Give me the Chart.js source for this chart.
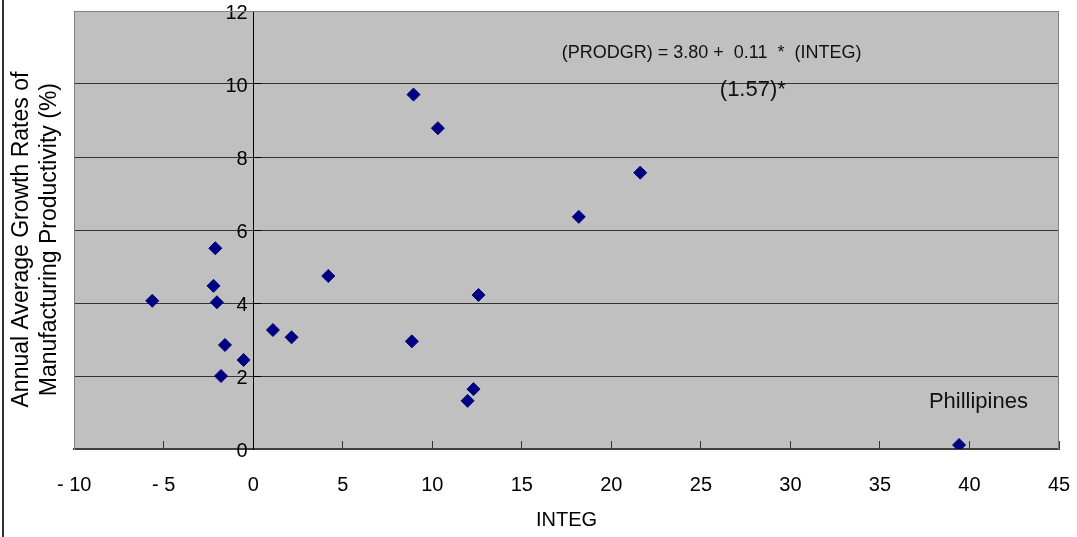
<!DOCTYPE html>
<html>
<head>
<meta charset="utf-8">
<script src="https://cdn.jsdelivr.net/npm/chart.js@4/dist/chart.umd.min.js"></script>
<style>
  html, body { margin: 0; padding: 0; background: #fff; }
  #wrap { position: relative; width: 1077px; height: 537px; }
  #edge { position: absolute; left: 2px; top: 0; width: 2px; height: 537px; background: #333; }
</style>
</head>
<body>
<div id="wrap">
  <canvas id="scatterChart" width="1077" height="537"></canvas>
  <div id="edge"></div>
</div>
<script>
  const FONT = 'Arial, "Liberation Sans", sans-serif';

  // INTEG (x) and PRODGR (y) for each country
  const integ = [-5.64, -2.12, -2.22, -2.03, -1.58, -0.54, -1.80, 1.10, 2.14, 4.19,
                 8.95, 10.31, 21.61, 18.18, 12.58, 8.86, 12.30, 11.97, 39.42];
  const prodgr = [4.06, 5.50, 4.47, 4.02, 2.85, 2.44, 2.00, 3.26, 3.06, 4.74,
                  9.71, 8.79, 7.57, 6.36, 4.22, 2.95, 1.64, 1.32, 0.11];

  const xTicks = [-10, -5, 0, 5, 10, 15, 20, 25, 30, 35, 40, 45];
  const yTicks = [0, 2, 4, 6, 8, 10, 12];

  const yTitle = ['Annual Average Growth Rates of   ', 'Manufacturing Productivity (%)   '];
  const xTitle = 'INTEG';
  const equation = '(PRODGR) = 3.80 +  0.11  *  (INTEG)';
  const tValue = '(1.57)*';
  const outlierName = 'Phillipines';

  const points = integ.map((v, i) => ({ x: v, y: prodgr[i] }));

  // grey plot area with a thin frame
  const plotFrame = {
    id: 'plotFrame',
    beforeDraw(chart) {
      const { ctx, chartArea: a } = chart;
      ctx.save();
      ctx.fillStyle = '#c0c0c0';
      ctx.fillRect(a.left, a.top, a.right - a.left, a.bottom - a.top);
      ctx.restore();
    },
    beforeDatasetsDraw(chart) {
      const { ctx, chartArea: a } = chart;
      ctx.save();
      ctx.strokeStyle = '#808080';
      ctx.lineWidth = 1;
      ctx.beginPath();
      ctx.moveTo(a.left, a.top + 0.5);
      ctx.lineTo(a.right - 0.5, a.top + 0.5);
      ctx.lineTo(a.right - 0.5, a.bottom);
      ctx.stroke();
      ctx.restore();
    }
  };

  // regression equation and the outlier label
  const notes = {
    id: 'notes',
    afterDatasetsDraw(chart) {
      const { ctx, scales: { x, y } } = chart;
      ctx.save();
      ctx.fillStyle = '#111';
      ctx.textAlign = 'center';
      ctx.textBaseline = 'middle';
      ctx.font = '18px ' + FONT;
      ctx.fillText(equation, x.getPixelForValue(25.6), y.getPixelForValue(10.85));
      ctx.font = '22px ' + FONT;
      ctx.fillText(tValue, x.getPixelForValue(27.9), y.getPixelForValue(9.85));
      ctx.fillText(outlierName, x.getPixelForValue(40.5), y.getPixelForValue(1.28));
      ctx.restore();
    }
  };

  const ctx = document.getElementById('scatterChart').getContext('2d');
  new Chart(ctx, {
    type: 'scatter',
    data: {
      datasets: [{
        data: points,
        pointStyle: 'rectRot',
        pointRadius: 6.5,
        pointHoverRadius: 6.5,
        backgroundColor: '#000080',
        borderColor: '#000080',
        borderWidth: 1
      }]
    },
    options: {
      responsive: false,
      animation: false,
      events: [],
      layout: { padding: { left: 8, right: 18, top: 11, bottom: 0 } },
      plugins: { legend: { display: false }, tooltip: { enabled: false } },
      scales: {
        x: {
          type: 'linear',
          min: -10,
          max: 45,
          afterBuildTicks: s => { s.ticks = xTicks.map(v => ({ value: v })); },
          afterFit: s => { s.height = 88; s.paddingLeft = 0; s.paddingRight = 0; },
          border: { color: '#404040', width: 2 },
          grid: { drawOnChartArea: false, drawTicks: true, tickLength: -8, color: '#333' },
          ticks: {
            padding: 32,
            color: '#000',
            font: { family: FONT, size: 20 },
            callback: v => v < 0 ? '- ' + Math.abs(v) : String(v)
          },
          title: {
            display: true,
            text: xTitle,
            color: '#000',
            font: { family: FONT, size: 20 },
            padding: { top: 11, bottom: 5 }
          }
        },
        y: {
          type: 'linear',
          position: 'left',
          min: 0,
          max: 12,
          afterBuildTicks: s => { s.ticks = yTicks.map(v => ({ value: v })); },
          afterFit: s => { s.paddingTop = 0; s.paddingBottom = 0; },
          border: { color: '#808080', width: 1 },
          grid: {
            drawTicks: false,
            color: c => c.tick && c.tick.value === 12 ? '#808080' : '#333'
          },
          ticks: { display: false },
          title: {
            display: true,
            text: yTitle,
            color: '#000',
            font: { family: FONT, size: 23 },
            padding: { top: 0, bottom: 11 }
          }
        },
        y0: {
          type: 'linear',
          axis: 'y',
          position: { x: 0 },
          min: 0,
          max: 12,
          afterBuildTicks: s => { s.ticks = yTicks.map(v => ({ value: v })); },
          afterFit: s => { s.paddingTop = 0; s.paddingBottom = 0; },
          border: { color: '#000', width: 1 },
          grid: { drawOnChartArea: false, drawTicks: true, tickLength: -8, color: '#000' },
          ticks: {
            padding: 0,
            labelOffset: 2,
            color: '#000',
            font: { family: FONT, size: 20 },
            callback: v => v + ' '
          }
        }
      }
    },
    plugins: [plotFrame, notes]
  });
</script>
</body>
</html>
